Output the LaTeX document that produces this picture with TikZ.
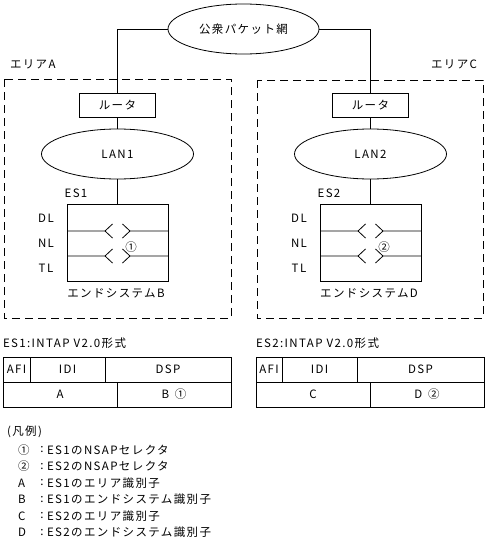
\documentclass[tikz,border=0pt]{standalone}
\usepackage{fontspec}
\setmainfont{Noto Sans CJK JP}[LetterSpace=12]
\usetikzlibrary{shapes.geometric,positioning}

\begin{document}
\begin{tikzpicture}[x=1pt, y=-1pt, line width=0.8pt,
    every node/.style={font=\fontsize{11.5}{13}\selectfont, inner sep=0pt, outer sep=0pt},
    net/.style={draw, ellipse, minimum width=152, minimum height=50},
    router/.style={draw, minimum width=76, minimum height=24},
    esbox/.style={draw, minimum width=101, minimum height=77},
    area/.style={draw, dash pattern=on 8pt off 5pt},
    cell/.style={draw, minimum height=25, minimum width=#1}
]
\useasboundingbox (0,0) rectangle (487,549);

% Network
\node[net, minimum width=151] (net) at (243.5,29) {公衆パケット網};

% Area A
\draw[area] (4,79) rectangle (231,318);
\node[anchor=west] (lblA) at (10,64) {エリアA};
\node[router] (rtA) at (117.5,105) {ルータ};
\node[net] (lanA) at (117.5,154) {LAN1};
\node[esbox] (esA) at (117.5,242.5) {};
\node (es1) at (76,193) {ES1};
\node (sysB) at (116,293) {エンドシステムB};
\foreach \y in {231,256} {
  \draw (67,\y) -- (105,\y) -- (112.5,{\y-7}) (105,\y) -- (112.5,{\y+7})
        (122.5,{\y-7}) -- (130,\y) -- (168,\y) (130,\y) -- (122.5,{\y+7});
}
\node (selA) at (131,247) {①};

% Area C
\draw[area] (257,80) rectangle (483,318);
\node[anchor=east] (lblC) at (477,64) {エリアC};
\node[router] (rtC) at (370.5,105) {ルータ};
\node[net] (lanC) at (370.5,154) {LAN2};
\node[esbox] (esC) at (370.5,242.5) {};
\node (es2) at (329,193) {ES2};
\node (sysD) at (369,293) {エンドシステムD};
\foreach \y in {231,256} {
  \draw (320,\y) -- (358,\y) -- (365.5,{\y-7}) (358,\y) -- (365.5,{\y+7})
        (375.5,{\y-7}) -- (383,\y) -- (421,\y) (383,\y) -- (375.5,{\y+7});
}
\node (selC) at (384,247) {②};

% Layers
\foreach \t/\y in {DL/218,NL/243,TL/268} {
  \node (\t A) at (46,\y) {\t};
  \node (\t C) at (299,\y) {\t};
}

% Connections
\draw (net.west) -| (rtA.north);
\draw (net.east) -| (rtC.north);
\draw (rtA) -- (lanA);
\draw (lanA) -- (esA);
\draw (rtC) -- (lanC);
\draw (lanC) -- (esC);

% NSAP format ES1
\node[anchor=west] (fmtA) at (3,343) {ES1:INTAP V2.0形式};
\node[cell=27, anchor=north west] (afiA) at (3,357) {AFI};
\node[cell=75, right=0pt of afiA] (idiA) {IDI};
\node[cell=126, right=0pt of idiA] (dspA) {DSP};
\node[cell=114, below=0pt of afiA.south west, anchor=north west] (areaA) {A};
\node[cell=114, right=0pt of areaA] (esidB) {B\enspace ①};

% NSAP format ES2
\node[anchor=west] (fmtC) at (256,343) {ES2:INTAP V2.0形式};
\node[cell=26, anchor=north west] (afiC) at (256,357) {AFI};
\node[cell=75, right=0pt of afiC] (idiC) {IDI};
\node[cell=127, right=0pt of idiC] (dspC) {DSP};
\node[cell=114, below=0pt of afiC.south west, anchor=north west] (areaC) {C};
\node[cell=114, right=0pt of areaC] (esidD) {D\enspace ②};

% Legend
\node[anchor=west] (legend) at (7,432) {(凡例)};
\foreach \s/\t [count=\i] in {①/ES1のNSAPセレクタ, ②/ES2のNSAPセレクタ,
    A/ES1のエリア識別子, B/ES1のエンドシステム識別子,
    C/ES2のエリア識別子, D/ES2のエンドシステム識別子} {
  \node[anchor=west] (sym\i) at (18,{433.5+16.5*\i}) {\s};
  \node (col\i) at (42,{433.5+16.5*\i}) {:};
  \node[anchor=west] (txt\i) at (47,{433.5+16.5*\i}) {\t};
}
\end{tikzpicture}
\end{document}
